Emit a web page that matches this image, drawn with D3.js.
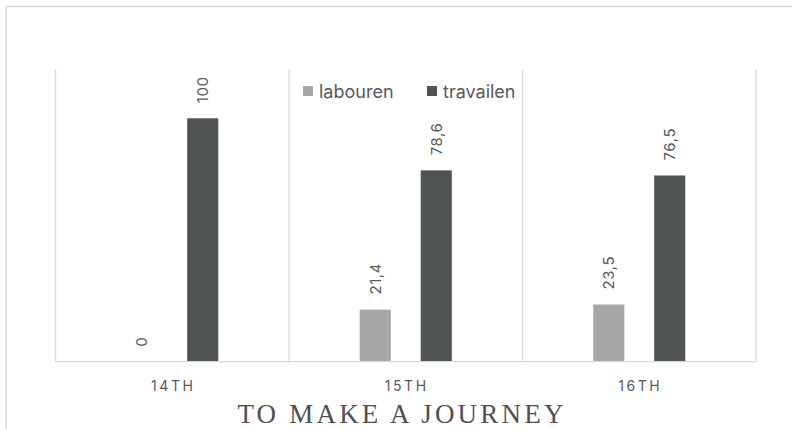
<!DOCTYPE html>
<html>
<head>
<meta charset="utf-8">
<script src="https://cdn.jsdelivr.net/npm/d3@7"></script>
<style>
  body { margin: 0; background: #fff; }
</style>
</head>
<body>
<div id="chart"></div>
<script>
var centuries = ["14TH", "15TH", "16TH"];
var seriesNames = ["labouren", "travailen"];
var labouren = [0, 21.4, 23.5];
var travailen = [100, 78.6, 76.5];
var valueLabels = [["0", "21,4", "23,5"], ["100", "78,6", "76,5"]];
var colors = ["#a5a7a8", "#505354"];

var w = 792;
var h = 429;
var plotLeft = 55.5, plotRight = 756, plotTop = 69.6, plotBottom = 361.7;
var sansFont = "Inter, 'Noto Sans', sans-serif";

var svg = d3.select("#chart")
    .append("svg")
    .attr("width", w)
    .attr("height", h)
    .style("font-family", sansFont);

// outer frame (top and left edges only)
svg.append("path")
    .attr("d", "M6,429 V6.5 H792")
    .attr("fill", "none")
    .attr("stroke", "#d9d9d9")
    .attr("stroke-width", 1.5);

var x0 = d3.scaleBand()
    .domain(centuries)
    .range([plotLeft, plotRight])
    .padding(0);

var x1 = d3.scaleBand()
    .domain(seriesNames)
    .range([0, x0.bandwidth()])
    .paddingInner(0.49)
    .paddingOuter(1.16);

var y = d3.scaleLinear()
    .domain([0, 120])
    .range([plotBottom, plotTop]);

// vertical category separators
var bounds = centuries.map(function(c) { return x0(c); }).concat([plotRight]);
svg.selectAll(".sep")
    .data(bounds)
    .enter()
    .append("line")
    .attr("x1", function(d) { return d; })
    .attr("x2", function(d) { return d; })
    .attr("y1", y(120))
    .attr("y2", y(0))
    .attr("stroke", "#d9d9d9")
    .attr("stroke-width", 1.3);

var rows = [];
centuries.forEach(function(c, i) {
    rows.push({cat: c, s: 0, v: labouren[i], label: valueLabels[0][i]});
    rows.push({cat: c, s: 1, v: travailen[i], label: valueLabels[1][i]});
});

svg.selectAll(".bar")
    .data(rows)
    .enter()
    .append("rect")
    .attr("class", "bar")
    .attr("x", function(d) { return x0(d.cat) + x1(seriesNames[d.s]); })
    .attr("y", function(d) { return y(d.v); })
    .attr("width", x1.bandwidth())
    .attr("height", function(d) { return y(0) - y(d.v); })
    .attr("fill", function(d) { return colors[d.s]; });

// baseline
svg.append("line")
    .attr("x1", plotLeft)
    .attr("x2", plotRight)
    .attr("y1", y(0))
    .attr("y2", y(0))
    .attr("stroke", "#d9d9d9")
    .attr("stroke-width", 1.3);

// rotated value labels
svg.selectAll(".bar-label")
    .data(rows)
    .enter()
    .append("text")
    .attr("class", "bar-label")
    .attr("transform", function(d) {
        var cx = x0(d.cat) + x1(seriesNames[d.s]) + x1.bandwidth() / 2;
        return "translate(" + (cx + 5.5) + "," + (y(d.v) - 15) + ") rotate(-90)";
    })
    .attr("text-anchor", "start")
    .attr("font-size", 15)
    .attr("letter-spacing", "0.6px")
    .attr("fill", "#595959")
    .text(function(d) { return d.label; });

// x axis labels
svg.selectAll(".x-label")
    .data(centuries)
    .enter()
    .append("text")
    .attr("class", "x-label")
    .attr("x", function(d) { return x0(d) + x0.bandwidth() / 2 + 1; })
    .attr("y", 391)
    .attr("text-anchor", "middle")
    .attr("font-size", 14)
    .attr("letter-spacing", "2.6px")
    .attr("fill", "#595959")
    .text(function(d) { return d; });

// legend
var legendX = [303, 427];
var legend = svg.selectAll(".legend")
    .data(seriesNames)
    .enter()
    .append("g")
    .attr("transform", function(d, i) { return "translate(" + legendX[i] + ",86)"; });
legend.append("rect")
    .attr("width", 10)
    .attr("height", 10)
    .attr("fill", function(d, i) { return colors[i]; });
legend.append("text")
    .attr("x", 16)
    .attr("y", 11.5)
    .attr("font-size", 18)
    .attr("fill", "#595959")
    .text(function(d) { return d; });

// title
svg.append("text")
    .attr("x", 402)
    .attr("y", 423)
    .attr("text-anchor", "middle")
    .style("font-family", "'Liberation Serif', 'DejaVu Serif', serif")
    .attr("font-size", 27)
    .attr("letter-spacing", "3.2px")
    .attr("fill", "#505050")
    .text("TO MAKE A JOURNEY");
</script>
</body>
</html>
